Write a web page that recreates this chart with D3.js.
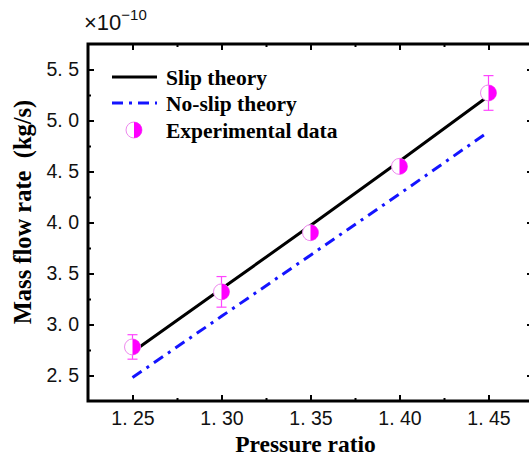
<!DOCTYPE html>
<html>
<head>
<meta charset="utf-8">
<script src="https://cdn.jsdelivr.net/npm/d3@7"></script>
<style>
body { margin: 0; background: #fff; }
svg { display: block; }
</style>
</head>
<body>
<div id="my_dataviz"></div>
<script>
const pressure = [1.25, 1.30, 1.35, 1.40, 1.45]
const slip_theory = [2.73, 3.35, 3.97, 4.60, 5.24]
const noslip_theory = [2.48, 3.08, 3.68, 4.28, 4.89]
const exp_data = [2.78, 3.32, 3.90, 4.55, 5.27]
const exp_err = [0.12, 0.15, 0.06, 0.04, 0.17]
const x_ticks = [1.25, 1.30, 1.35, 1.40, 1.45]
const x_minor = [1.275, 1.325, 1.375, 1.425]
const y_ticks = [2.5, 3.0, 3.5, 4.0, 4.5, 5.0, 5.5]
const y_minor = [2.75, 3.25, 3.75, 4.25, 4.75, 5.25]

var margin = {top: 44, right: -4, bottom: 58, left: 88},
    W = 529, H = 459,
    width = W - margin.left - margin.right,
    height = H - margin.top - margin.bottom;

var sans = "'Liberation Sans', Arial, sans-serif";
var serif = "'Liberation Serif', 'Times New Roman', serif";
var magenta = "#ff00ff";

var svg = d3.select("#my_dataviz").append("svg")
    .attr("width", W)
    .attr("height", H);

var g = svg.append("g")
    .attr("transform", "translate(" + margin.left + "," + margin.top + ")");

var x = d3.scaleLinear().domain([1.225, 1.475]).range([0, width]);
var y = d3.scaleLinear().domain([2.25, 5.75]).range([height, 0]);

var fmt = function(d) { return d3.format(".2f")(d).replace(".", ". "); };
var fmtY = function(d) { return d3.format(".1f")(d).replace(".", ". "); };

// axes, ticks inside
function styleAxis(sel) {
    sel.select(".domain").remove();
    sel.selectAll(".tick line").attr("stroke", "#000").attr("stroke-width", 2);
    sel.selectAll(".tick text").attr("font-family", sans).attr("font-size", "19.5px").attr("fill", "#111");
}

var xAxis = g.append("g").attr("transform", "translate(0," + height + ")")
    .call(d3.axisBottom(x).tickValues(x_ticks).tickSize(-6).tickPadding(10).tickFormat(fmt));
styleAxis(xAxis);
g.append("g").attr("transform", "translate(0," + height + ")")
    .call(d3.axisBottom(x).tickValues(x_minor).tickSize(-3).tickFormat(""))
    .call(styleAxis);

var topAxis = g.append("g")
    .call(d3.axisTop(x).tickValues(x_ticks).tickSize(-6).tickFormat(""));
styleAxis(topAxis);
g.append("g")
    .call(d3.axisTop(x).tickValues(x_minor).tickSize(-3).tickFormat(""))
    .call(styleAxis);

var yAxis = g.append("g")
    .call(d3.axisLeft(y).tickValues(y_ticks).tickSize(-6).tickPadding(9).tickFormat(fmtY));
styleAxis(yAxis);
g.append("g")
    .call(d3.axisLeft(y).tickValues(y_minor).tickSize(-3).tickFormat(""))
    .call(styleAxis);

g.append("g").attr("transform", "translate(" + width + ",0)")
    .call(d3.axisRight(y).tickValues(y_ticks).tickSize(-6).tickFormat(""))
    .call(styleAxis);

// frame
g.append("rect")
    .attr("x", 0).attr("y", 0)
    .attr("width", width).attr("height", height)
    .attr("fill", "none")
    .attr("stroke", "#000")
    .attr("stroke-width", 3);

// lines
var line = d3.line()
    .x(function(d, i) { return x(pressure[i]); })
    .y(function(d) { return y(d); });

g.append("path")
    .attr("fill", "none")
    .attr("stroke", "#000")
    .attr("stroke-width", 3)
    .attr("d", line(slip_theory));

g.append("path")
    .attr("fill", "none")
    .attr("stroke", "#1414ff")
    .attr("stroke-width", 3)
    .attr("stroke-dasharray", "11,6,3,6")
    .attr("d", line(noslip_theory));

// error bars
var err = g.selectAll(".err")
    .data(exp_data)
    .enter()
    .append("g")
    .attr("class", "err")
    .attr("stroke", "#ff44ff")
    .attr("stroke-width", 1.2);
err.append("line")
    .attr("x1", function(d, i) { return x(pressure[i]); })
    .attr("x2", function(d, i) { return x(pressure[i]); })
    .attr("y1", function(d, i) { return y(d + exp_err[i]); })
    .attr("y2", function(d, i) { return y(d - exp_err[i]); });
err.append("line")
    .attr("x1", function(d, i) { return x(pressure[i]) - 5; })
    .attr("x2", function(d, i) { return x(pressure[i]) + 5; })
    .attr("y1", function(d, i) { return y(d + exp_err[i]); })
    .attr("y2", function(d, i) { return y(d + exp_err[i]); });
err.append("line")
    .attr("x1", function(d, i) { return x(pressure[i]) - 5; })
    .attr("x2", function(d, i) { return x(pressure[i]) + 5; })
    .attr("y1", function(d, i) { return y(d - exp_err[i]); })
    .attr("y2", function(d, i) { return y(d - exp_err[i]); });

// half filled markers
var r = 8;
var halfArc = "M0," + (-r) + " A" + r + "," + r + " 0 0,1 0," + r + " Z";
function marker(sel) {
    sel.append("circle").attr("r", r).attr("fill", "#fff").attr("stroke", "#ee88ee").attr("stroke-width", 1);
    sel.append("path").attr("d", halfArc).attr("fill", magenta);
}
g.selectAll(".point")
    .data(exp_data)
    .enter()
    .append("g")
    .attr("class", "point")
    .attr("transform", function(d, i) { return "translate(" + x(pressure[i]) + "," + y(d) + ")"; })
    .call(marker);

// legend
var legend = svg.append("g").attr("font-family", serif).attr("font-weight", "bold").attr("font-size", "21.5px");
legend.append("line").attr("x1", 112).attr("x2", 157).attr("y1", 77).attr("y2", 77)
    .attr("stroke", "#000").attr("stroke-width", 3);
legend.append("line").attr("x1", 112).attr("x2", 157).attr("y1", 103).attr("y2", 103)
    .attr("stroke", "#1414ff").attr("stroke-width", 3).attr("stroke-dasharray", "11,6,3,6");
legend.append("g").attr("transform", "translate(134,130)").call(marker);
legend.selectAll(".ltext")
    .data(["Slip theory", "No-slip theory", "Experimental data"])
    .enter()
    .append("text")
    .attr("x", 166)
    .attr("y", function(d, i) { return 77 + i * 26.5; })
    .attr("dy", "0.35em")
    .text(function(d) { return d; });

// axis titles
svg.append("text")
    .attr("x", margin.left + x(1.35) - 5)
    .attr("y", 452)
    .attr("text-anchor", "middle")
    .attr("font-family", serif)
    .attr("font-weight", "bold")
    .attr("font-size", "23.5px")
    .text("Pressure ratio");

svg.append("text")
    .attr("transform", "translate(31,212) rotate(-90)")
    .attr("text-anchor", "middle")
    .attr("font-family", serif)
    .attr("font-weight", "bold")
    .attr("font-size", "24.5px")
    .attr("xml:space", "preserve")
    .style("white-space", "pre")
    .text("Mass flow rate  (kg/s)");

// exponent
var ex = svg.append("text")
    .attr("x", 84)
    .attr("y", 30)
    .attr("font-family", sans)
    .attr("fill", "#111");
ex.append("tspan").style("font-size", "22px").text("×10");
ex.append("tspan").attr("dy", -10).style("font-size", "15px").text("−10");
</script>
</body>
</html>
